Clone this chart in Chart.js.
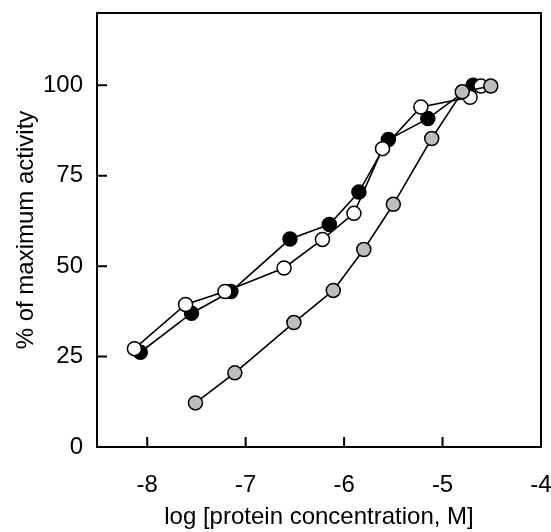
<!DOCTYPE html>
<html lang="en">
<head>
<meta charset="UTF-8">
<title>% of maximum activity</title>
<script src="https://cdn.jsdelivr.net/npm/chart.js"></script>
<style>
  html, body { margin: 0; padding: 0; background: #fff; }
  #wrap { width: 551px; height: 532px; }
</style>
</head>
<body>
<div id="wrap"><canvas id="myChart" width="551" height="532"></canvas></div>
<script>
// values
var blackX = [-8.07, -7.55, -7.15, -6.55, -6.15, -5.85, -5.55, -5.15, -4.69];
var blackY = [26.2, 37.0, 43.0, 57.5, 61.5, 70.5, 85.0, 90.8, 100.0];

var whiteX = [-8.13, -7.61, -7.21, -6.61, -6.22, -5.90, -5.61, -5.22, -4.72, -4.61];
var whiteY = [27.2, 39.4, 43.0, 49.5, 57.4, 64.6, 82.5, 94.0, 96.7, 99.8];

var grayX = [-7.51, -7.11, -6.51, -6.11, -5.80, -5.50, -5.11, -4.80, -4.51];
var grayY = [12.2, 20.5, 34.4, 43.3, 54.6, 67.1, 85.3, 98.2, 99.8];

var xTicks = [-8, -7, -6, -5, -4];
var yTicks = [0, 25, 50, 75, 100];

function pts(xs, ys) {
    return xs.map(function (x, i) { return { x: x, y: ys[i] }; });
}

var FONT = 'Liberation Sans, Arial, sans-serif';

// box around the plot and inward tick marks
var frame = {
    id: 'frame',
    afterDraw: function (chart) {
        var c = chart.ctx, a = chart.chartArea;
        c.save();
        c.strokeStyle = '#000';
        c.lineWidth = 2;
        c.strokeRect(a.left, a.top, a.right - a.left, a.bottom - a.top);
        c.beginPath();
        xTicks.forEach(function (v) {
            var px = chart.scales.x.getPixelForValue(v);
            if (px < a.right - 2) { c.moveTo(px, a.bottom); c.lineTo(px, a.bottom - 10); }
        });
        yTicks.forEach(function (v) {
            var py = chart.scales.y.getPixelForValue(v);
            if (py < a.bottom - 2) { c.moveTo(a.left, py); c.lineTo(a.left + 10, py); }
        });
        c.stroke();
        c.restore();
    }
};

function noPad(s) {
    s.paddingLeft = 0; s.paddingRight = 0; s.paddingTop = 0; s.paddingBottom = 0;
}

var ctx = document.getElementById('myChart').getContext('2d');
var myChart = new Chart(ctx, {
    type: 'scatter',
    data: {
        datasets: [{
            label: 'gray',
            data: pts(grayX, grayY),
            order: 0,
            showLine: true,
            borderColor: '#000',
            borderWidth: 1.6,
            pointRadius: 7,
            pointBorderWidth: 1.5,
            pointBackgroundColor: '#bdbdbd',
            pointBorderColor: '#000'
        }, {
            label: 'white',
            data: pts(whiteX, whiteY),
            order: 1,
            showLine: true,
            borderColor: '#000',
            borderWidth: 1.6,
            pointRadius: 7,
            pointBorderWidth: 1.5,
            pointBackgroundColor: '#fff',
            pointBorderColor: '#000'
        }, {
            label: 'black',
            data: pts(blackX, blackY),
            order: 2,
            showLine: true,
            borderColor: '#000',
            borderWidth: 1.6,
            pointRadius: 7,
            pointBorderWidth: 1.5,
            pointBackgroundColor: '#000',
            pointBorderColor: '#000'
        }]
    },
    options: {
        responsive: false,
        animation: false,
        layout: { autoPadding: false, padding: { top: 13, right: 10, left: 0, bottom: 0 } },
        plugins: {
            legend: { display: false },
            tooltip: { enabled: false }
        },
        scales: {
            x: {
                type: 'linear',
                min: -8.51,
                max: -4,
                afterBuildTicks: function (s) { s.ticks = xTicks.map(function (v) { return { value: v }; }); },
                afterFit: function (s) { s.height = 85; noPad(s); },
                grid: { display: false },
                border: { display: false },
                ticks: { color: '#000', padding: 16, maxRotation: 0, font: { family: FONT, size: 24 } },
                title: {
                    display: true,
                    text: 'log [protein concentration, M]',
                    color: '#000',
                    font: { family: FONT, size: 24 },
                    padding: { top: 4, bottom: 0 }
                }
            },
            y: {
                type: 'linear',
                min: 0,
                max: 120,
                afterBuildTicks: function (s) { s.ticks = yTicks.map(function (v) { return { value: v }; }); },
                afterFit: function (s) { s.width = 97; noPad(s); },
                grid: { display: false },
                border: { display: false },
                ticks: { color: '#000', padding: 6, font: { family: FONT, size: 24 } },
                title: {
                    display: true,
                    text: '% of maximum activity',
                    color: '#000',
                    font: { family: FONT, size: 24 },
                    padding: { top: 12, bottom: 6 }
                }
            }
        }
    },
    plugins: [frame]
});
</script>
</body>
</html>
